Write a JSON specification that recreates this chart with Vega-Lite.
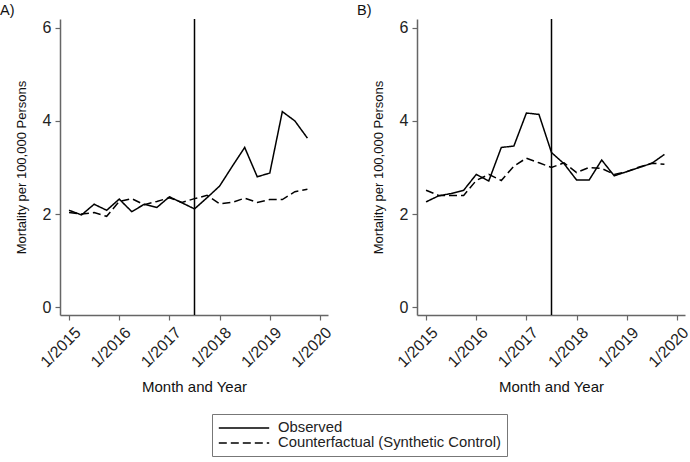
{
  "$schema": "https://vega.github.io/schema/vega-lite/v6.json",
  "padding": {"left": 0, "top": 2, "right": 0, "bottom": 0},
  "spacing": 22,
  "config": {
    "font": "Liberation Sans",
    "view": {"stroke": null},
    "axis": {
      "grid": false,
      "domainColor": "#666",
      "domainWidth": 1.5,
      "tickColor": "#666",
      "tickWidth": 1.2,
      "tickSize": 5,
      "labelColor": "#222",
      "labelFontSize": 16,
      "titleColor": "#111",
      "titleFontWeight": "normal"
    },
    "legend": {
      "strokeColor": "#777",
      "padding": 6,
      "labelFontSize": 14.8,
      "labelColor": "#222",
      "labelLimit": 400,
      "symbolType": "M-3.6,0H3.6",
      "symbolSize": 196,
      "symbolOffset": 18,
      "symbolStrokeWidth": 1.5,
      "symbolStrokeColor": "black",
      "labelOffset": 26,
      "rowPadding": 0
    },
    "title": {"fontSize": 14.5, "fontWeight": "normal", "color": "#111"}
  },
  "datasets": {
    "A": [
      {"t": 2015.00, "series": "Observed", "v": 2.08},
      {"t": 2015.25, "series": "Observed", "v": 1.98},
      {"t": 2015.50, "series": "Observed", "v": 2.21},
      {"t": 2015.75, "series": "Observed", "v": 2.08},
      {"t": 2016.00, "series": "Observed", "v": 2.32},
      {"t": 2016.25, "series": "Observed", "v": 2.05},
      {"t": 2016.50, "series": "Observed", "v": 2.21},
      {"t": 2016.75, "series": "Observed", "v": 2.14},
      {"t": 2017.00, "series": "Observed", "v": 2.37},
      {"t": 2017.25, "series": "Observed", "v": 2.24},
      {"t": 2017.50, "series": "Observed", "v": 2.11},
      {"t": 2017.75, "series": "Observed", "v": 2.35},
      {"t": 2018.00, "series": "Observed", "v": 2.60},
      {"t": 2018.25, "series": "Observed", "v": 3.02},
      {"t": 2018.50, "series": "Observed", "v": 3.43},
      {"t": 2018.75, "series": "Observed", "v": 2.80},
      {"t": 2019.00, "series": "Observed", "v": 2.88},
      {"t": 2019.25, "series": "Observed", "v": 4.20},
      {"t": 2019.50, "series": "Observed", "v": 4.00},
      {"t": 2019.75, "series": "Observed", "v": 3.63},
      {"t": 2015.00, "series": "Counterfactual (Synthetic Control)", "v": 2.03},
      {"t": 2015.25, "series": "Counterfactual (Synthetic Control)", "v": 2.00},
      {"t": 2015.50, "series": "Counterfactual (Synthetic Control)", "v": 2.03},
      {"t": 2015.75, "series": "Counterfactual (Synthetic Control)", "v": 1.95},
      {"t": 2016.00, "series": "Counterfactual (Synthetic Control)", "v": 2.27},
      {"t": 2016.25, "series": "Counterfactual (Synthetic Control)", "v": 2.33},
      {"t": 2016.50, "series": "Counterfactual (Synthetic Control)", "v": 2.20},
      {"t": 2016.75, "series": "Counterfactual (Synthetic Control)", "v": 2.27},
      {"t": 2017.00, "series": "Counterfactual (Synthetic Control)", "v": 2.35},
      {"t": 2017.25, "series": "Counterfactual (Synthetic Control)", "v": 2.25},
      {"t": 2017.50, "series": "Counterfactual (Synthetic Control)", "v": 2.33},
      {"t": 2017.75, "series": "Counterfactual (Synthetic Control)", "v": 2.40},
      {"t": 2018.00, "series": "Counterfactual (Synthetic Control)", "v": 2.22},
      {"t": 2018.25, "series": "Counterfactual (Synthetic Control)", "v": 2.25},
      {"t": 2018.50, "series": "Counterfactual (Synthetic Control)", "v": 2.34},
      {"t": 2018.75, "series": "Counterfactual (Synthetic Control)", "v": 2.25},
      {"t": 2019.00, "series": "Counterfactual (Synthetic Control)", "v": 2.31},
      {"t": 2019.25, "series": "Counterfactual (Synthetic Control)", "v": 2.31},
      {"t": 2019.50, "series": "Counterfactual (Synthetic Control)", "v": 2.48},
      {"t": 2019.75, "series": "Counterfactual (Synthetic Control)", "v": 2.53}
    ],
    "B": [
      {"t": 2015.00, "series": "Observed", "v": 2.26},
      {"t": 2015.25, "series": "Observed", "v": 2.39},
      {"t": 2015.50, "series": "Observed", "v": 2.44},
      {"t": 2015.75, "series": "Observed", "v": 2.51},
      {"t": 2016.00, "series": "Observed", "v": 2.85},
      {"t": 2016.25, "series": "Observed", "v": 2.71},
      {"t": 2016.50, "series": "Observed", "v": 3.43},
      {"t": 2016.75, "series": "Observed", "v": 3.46},
      {"t": 2017.00, "series": "Observed", "v": 4.17},
      {"t": 2017.25, "series": "Observed", "v": 4.14},
      {"t": 2017.50, "series": "Observed", "v": 3.32},
      {"t": 2017.75, "series": "Observed", "v": 3.08},
      {"t": 2018.00, "series": "Observed", "v": 2.73},
      {"t": 2018.25, "series": "Observed", "v": 2.73},
      {"t": 2018.50, "series": "Observed", "v": 3.16},
      {"t": 2018.75, "series": "Observed", "v": 2.82},
      {"t": 2019.00, "series": "Observed", "v": 2.91},
      {"t": 2019.25, "series": "Observed", "v": 3.00},
      {"t": 2019.50, "series": "Observed", "v": 3.09},
      {"t": 2019.75, "series": "Observed", "v": 3.28},
      {"t": 2015.00, "series": "Counterfactual (Synthetic Control)", "v": 2.51},
      {"t": 2015.25, "series": "Counterfactual (Synthetic Control)", "v": 2.40},
      {"t": 2015.50, "series": "Counterfactual (Synthetic Control)", "v": 2.40},
      {"t": 2015.75, "series": "Counterfactual (Synthetic Control)", "v": 2.40},
      {"t": 2016.00, "series": "Counterfactual (Synthetic Control)", "v": 2.72},
      {"t": 2016.25, "series": "Counterfactual (Synthetic Control)", "v": 2.85},
      {"t": 2016.50, "series": "Counterfactual (Synthetic Control)", "v": 2.72},
      {"t": 2016.75, "series": "Counterfactual (Synthetic Control)", "v": 3.03},
      {"t": 2017.00, "series": "Counterfactual (Synthetic Control)", "v": 3.20},
      {"t": 2017.25, "series": "Counterfactual (Synthetic Control)", "v": 3.10},
      {"t": 2017.50, "series": "Counterfactual (Synthetic Control)", "v": 3.00},
      {"t": 2017.75, "series": "Counterfactual (Synthetic Control)", "v": 3.10},
      {"t": 2018.00, "series": "Counterfactual (Synthetic Control)", "v": 2.89},
      {"t": 2018.25, "series": "Counterfactual (Synthetic Control)", "v": 3.00},
      {"t": 2018.50, "series": "Counterfactual (Synthetic Control)", "v": 2.98},
      {"t": 2018.75, "series": "Counterfactual (Synthetic Control)", "v": 2.85},
      {"t": 2019.00, "series": "Counterfactual (Synthetic Control)", "v": 2.91},
      {"t": 2019.25, "series": "Counterfactual (Synthetic Control)", "v": 3.01},
      {"t": 2019.50, "series": "Counterfactual (Synthetic Control)", "v": 3.09},
      {"t": 2019.75, "series": "Counterfactual (Synthetic Control)", "v": 3.07}
    ],
    "event": [{"t": 2017.5}]
  },
  "hconcat": [
    {
      "width": 268,
      "height": 296,
      "title": {"text": "A)", "anchor": "start", "frame": "bounds", "dx": -15, "offset": 0},
      "layer": [
        {
          "data": {"name": "A"},
          "mark": {"type": "line", "color": "black", "strokeWidth": 1.5},
          "encoding": {
            "x": {"field": "t", "type": "quantitative",
              "scale": {"domain": [2014.82, 2020.16], "nice": false, "zero": false},
              "axis": {"values": [2015, 2016, 2017, 2018, 2019, 2020], "labelExpr": "'1/' + datum.value", "labelAngle": -45, "labelAlign": "right", "labelBaseline": "top", "labelPadding": 4, "labelOffset": 3, "title": "Month and Year", "titleFontSize": 15, "titlePadding": 10}},
            "y": {"field": "v", "type": "quantitative",
              "scale": {"domain": [-0.17, 6.19], "nice": false, "zero": false},
              "axis": {"values": [0, 2, 4, 6], "labelAngle": 0, "labelPadding": 4, "title": "Mortality per 100,000 Persons", "titleFontSize": 13, "titlePadding": 14}},
            "strokeDash": {"field": "series", "type": "nominal",
              "scale": {"domain": ["Observed", "Counterfactual (Synthetic Control)"], "range": [[1, 0], [8, 4]]},
              "legend": {"title": null, "orient": "none", "legendX": 152, "legendY": 395}}
          }
        },
        {
          "data": {"name": "event"},
          "mark": {"type": "rule", "color": "black", "strokeWidth": 1.5},
          "encoding": {"x": {"field": "t", "type": "quantitative"}}
        }
      ]
    },
    {
      "width": 268,
      "height": 296,
      "title": {"text": "B)", "anchor": "start", "frame": "bounds", "dx": -15, "offset": 0},
      "layer": [
        {
          "data": {"name": "B"},
          "mark": {"type": "line", "color": "black", "strokeWidth": 1.5},
          "encoding": {
            "x": {"field": "t", "type": "quantitative",
              "scale": {"domain": [2014.82, 2020.16], "nice": false, "zero": false},
              "axis": {"values": [2015, 2016, 2017, 2018, 2019, 2020], "labelExpr": "'1/' + datum.value", "labelAngle": -45, "labelAlign": "right", "labelBaseline": "top", "labelPadding": 4, "labelOffset": 3, "title": "Month and Year", "titleFontSize": 15, "titlePadding": 10}},
            "y": {"field": "v", "type": "quantitative",
              "scale": {"domain": [-0.17, 6.19], "nice": false, "zero": false},
              "axis": {"values": [0, 2, 4, 6], "labelAngle": 0, "labelPadding": 4, "title": "Mortality per 100,000 Persons", "titleFontSize": 13, "titlePadding": 14}},
            "strokeDash": {"field": "series", "type": "nominal",
              "scale": {"domain": ["Observed", "Counterfactual (Synthetic Control)"], "range": [[1, 0], [8, 4]]},
              "legend": {"title": null, "orient": "none", "legendX": 152, "legendY": 395}}
          }
        },
        {
          "data": {"name": "event"},
          "mark": {"type": "rule", "color": "black", "strokeWidth": 1.5},
          "encoding": {"x": {"field": "t", "type": "quantitative"}}
        }
      ]
    }
  ]
}
